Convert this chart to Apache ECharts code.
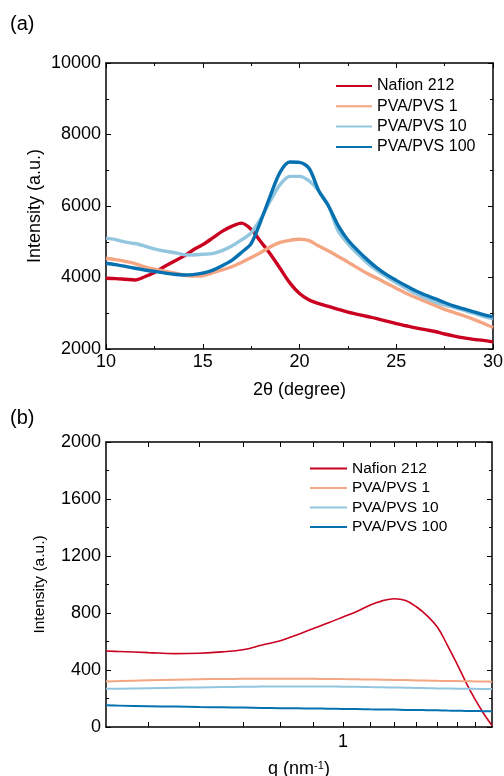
<!DOCTYPE html>
<html>
<head>
<meta charset="utf-8">
<script src="https://cdn.jsdelivr.net/npm/echarts@6/dist/echarts.min.js"></script>
<style>
    html, body { margin: 0; padding: 0; background: #fff; }
    #chart { width: 504px; height: 776px; }
</style>
</head>
<body>
<div id="chart"></div>
<script>
// series names and colours
const seriesNames = ['Nafion 212', 'PVA/PVS 1', 'PVA/PVS 10', 'PVA/PVS 100']
const seriesColors = ['#ca0020', '#f4a582', '#92c5de', '#0571b0']

// (a) XRD, 2θ in degree
const twoTheta = [10, 10.5, 11, 11.5, 12, 12.5, 13, 13.5, 14, 14.5, 15, 15.5, 16, 16.5, 17, 17.5, 18, 18.5, 19, 19.5,
    20, 20.5, 21, 21.5, 22, 22.5, 23, 23.5, 24, 24.5, 25, 25.5, 26, 26.5, 27, 27.5, 28, 28.5, 29, 29.5, 30]
const nafionXrd = [3980, 3970, 3950, 3930, 4020, 4140, 4300, 4450, 4590, 4770, 4920, 5100, 5290, 5430, 5520, 5350, 5000, 4650, 4250, 3850,
    3550, 3370, 3270, 3190, 3110, 3030, 2970, 2910, 2850, 2780, 2710, 2650, 2590, 2540, 2490, 2420, 2360, 2310, 2270, 2240, 2200]
const pvs1Xrd = [4540, 4500, 4450, 4390, 4300, 4230, 4180, 4130, 4070, 4040, 4050, 4130, 4210, 4300, 4420, 4560, 4700, 4860, 4980, 5040,
    5070, 5030, 4880, 4740, 4590, 4430, 4270, 4110, 3980, 3840, 3700, 3560, 3440, 3330, 3220, 3110, 3020, 2930, 2830, 2720, 2600]
const pvs10Xrd = [5100, 5060, 4990, 4950, 4880, 4800, 4740, 4700, 4640, 4630, 4650, 4670, 4750, 4880, 5050, 5250, 5650, 6150, 6600, 6830,
    6830, 6700, 6420, 6000, 5300, 4950, 4660, 4410, 4200, 4020, 3850, 3700, 3550, 3430, 3320, 3230, 3160, 3080, 3000, 2910, 2840]
const pvs100Xrd = [4400, 4360, 4310, 4260, 4210, 4170, 4130, 4090, 4070, 4080, 4120, 4200, 4330, 4480, 4700, 4950, 5580, 6300, 6950, 7230,
    7220, 7050, 6420, 6000, 5450, 5050, 4760, 4500, 4270, 4080, 3920, 3770, 3630, 3510, 3410, 3300, 3200, 3120, 3040, 2960, 2900]

// (b) SAXS, q in nm^-1
const qValues = [0.43, 0.45, 0.5, 0.55, 0.6, 0.65, 0.7, 0.75, 0.8, 0.85, 0.9, 0.95, 1.0, 1.05, 1.1, 1.15, 1.2, 1.25, 1.3, 1.35,
    1.4, 1.45, 1.5, 1.55, 1.6, 1.65, 1.7]
const nafionSaxs = [533, 530, 522, 515, 518, 527, 542, 575, 605, 648, 692, 732, 772, 810, 855, 885, 900, 887, 842, 780,
    700, 575, 445, 312, 195, 95, 10]
const pvs1Saxs = [320, 322, 328, 332, 335, 337, 338, 338, 338, 338, 338, 337, 336, 335, 333, 332, 330, 329, 327, 326,
    324, 323, 322, 321, 320, 319, 318]
const pvs10Saxs = [268, 269, 272, 275, 278, 280, 282, 284, 285, 285, 285, 284, 283, 282, 280, 279, 277, 276, 274, 272,
    271, 270, 269, 268, 268, 267, 267]
const pvs100Saxs = [152, 150, 146, 143, 140, 138, 136, 134, 132, 131, 130, 128, 127, 126, 124, 123, 122, 120, 119, 118,
    117, 115, 114, 113, 112, 111, 110]

// tick positions on the log q axis
const qTicks = [0.5, 0.6, 0.7, 0.8, 0.9, 1, 1.1, 1.2, 1.3, 1.4, 1.5, 1.6]
const qLabels = [1]

const FONT = 'Liberation Sans, Arial, sans-serif'

const zip = (xs, ys) => xs.map((x, i) => [x, ys[i]])

const tickStyle = { show: true, inside: true, length: 5, lineStyle: { color: '#000', width: 1 } }
const minorStyle = { show: true, length: 3, lineStyle: { color: '#000', width: 1 } }
const lineAxis = { show: true, onZero: false, lineStyle: { color: '#000', width: 1.5 } }
const labelStyle = { color: '#000', fontSize: 18, fontFamily: FONT }

const mirrorAxis = (base, extra) => Object.assign({}, base, {
    name: '',
    axisLabel: { show: false },
    splitLine: { show: false }
}, extra)

const xrdX = {
    type: 'value', gridIndex: 0, min: 10, max: 30, interval: 5,
    axisLine: lineAxis,
    axisTick: tickStyle,
    minorTick: Object.assign({ splitNumber: 2 }, minorStyle),
    splitLine: { show: false },
    axisLabel: Object.assign({ margin: 4, formatter: v => String(v) }, labelStyle),
    name: '2θ (degree)', nameLocation: 'middle', nameGap: 32, nameMoveOverlap: false,
    nameTextStyle: { color: '#000', fontSize: 18, fontFamily: FONT }
}
const xrdY = {
    type: 'value', gridIndex: 0, min: 2000, max: 10000, interval: 2000,
    axisLine: lineAxis,
    axisTick: tickStyle,
    minorTick: Object.assign({ splitNumber: 2 }, minorStyle),
    splitLine: { show: false },
    axisLabel: Object.assign({ margin: 5, formatter: v => String(v) }, labelStyle),
    name: 'Intensity (a.u.)', nameLocation: 'middle', nameGap: 62, nameMoveOverlap: false,
    nameTextStyle: { color: '#000', fontSize: 18, fontFamily: FONT }
}
const saxsX = {
    type: 'log', gridIndex: 1, min: 0.43, max: 1.7, logBase: 10,
    axisLine: lineAxis,
    axisTick: { show: true, inside: true, length: 5, customValues: qTicks, lineStyle: { color: '#000', width: 1 } },
    splitLine: { show: false },
    axisLabel: Object.assign({ margin: 6, customValues: qLabels, formatter: v => String(v) }, labelStyle),
    name: 'q (nm{sup|-1})', nameLocation: 'middle', nameGap: 33, nameMoveOverlap: false,
    nameTextStyle: {
        color: '#000', fontSize: 18, fontFamily: FONT,
        rich: { sup: { fontSize: 11, verticalAlign: 'top', padding: [0, 0, 8, 0], fontFamily: FONT, color: '#000' } }
    }
}
const saxsY = {
    type: 'value', gridIndex: 1, min: 0, max: 2000, interval: 400,
    axisLine: lineAxis,
    axisTick: tickStyle,
    minorTick: Object.assign({ splitNumber: 2 }, minorStyle),
    splitLine: { show: false },
    axisLabel: Object.assign({ margin: 5, formatter: v => String(v) }, labelStyle),
    name: 'Intensity (a.u.)', nameLocation: 'middle', nameGap: 58, nameMoveOverlap: false,
    nameTextStyle: { color: '#000', fontSize: 15.5, fontFamily: FONT }
}

const xrdData = [nafionXrd, pvs1Xrd, pvs10Xrd, pvs100Xrd]
const saxsData = [nafionSaxs, pvs1Saxs, pvs10Saxs, pvs100Saxs]

const series = []
xrdData.forEach((ys, i) => {
    series.push({
        name: seriesNames[i], type: 'line', xAxisIndex: 0, yAxisIndex: 0,
        data: zip(twoTheta, ys), showSymbol: false, symbol: 'none', smooth: 0.3,
        lineStyle: { color: seriesColors[i], width: 3.4 }, itemStyle: { color: seriesColors[i] },
        silent: true, animation: false
    })
})
saxsData.forEach((ys, i) => {
    series.push({
        name: seriesNames[i] + ' ', type: 'line', xAxisIndex: 2, yAxisIndex: 2,
        data: zip(qValues, ys), showSymbol: false, symbol: 'none', smooth: 0.4,
        lineStyle: { color: seriesColors[i], width: i === 0 ? 1.6 : 2 }, itemStyle: { color: seriesColors[i] },
        silent: true, animation: false
    })
})

const legendBase = {
    orient: 'vertical', padding: 0, icon: 'rect', itemWidth: 36, itemHeight: 2,
    selectedMode: false
}

const option = {
    backgroundColor: '#fff',
    animation: false,
    textStyle: { fontFamily: FONT },
    grid: [
        { left: 106, top: 63, width: 387, height: 286, outerBoundsMode: 'none', containLabel: false },
        { left: 106, top: 442, width: 386, height: 285, outerBoundsMode: 'none', containLabel: false }
    ],
    xAxis: [
        xrdX,
        mirrorAxis(xrdX, { position: 'top' }),
        saxsX,
        mirrorAxis(saxsX, { position: 'top' })
    ],
    yAxis: [
        xrdY,
        mirrorAxis(xrdY, { position: 'right' }),
        saxsY,
        mirrorAxis(saxsY, { position: 'right' })
    ],
    legend: [
        Object.assign({}, legendBase, {
            left: 336, top: 78, itemGap: 4.3,
            data: seriesNames,
            textStyle: { color: '#000', fontSize: 16, fontFamily: FONT }
        }),
        Object.assign({}, legendBase, {
            left: 310, top: 460.5, itemGap: 3.5, itemWidth: 37,
            data: seriesNames.map(n => n + ' '),
            formatter: n => n.trim(),
            textStyle: { color: '#000', fontSize: 15.5, fontFamily: FONT }
        })
    ],
    graphic: [
        { type: 'text', left: 10, top: 14, style: { text: '(a)', fontSize: 20, fontFamily: FONT, fill: '#000' } },
        { type: 'text', left: 10, top: 408, style: { text: '(b)', fontSize: 20, fontFamily: FONT, fill: '#000' } }
    ],
    series: series
}

const chart = echarts.init(document.getElementById('chart'), null, { renderer: 'canvas' })
chart.setOption(option)
</script>
</body>
</html>
